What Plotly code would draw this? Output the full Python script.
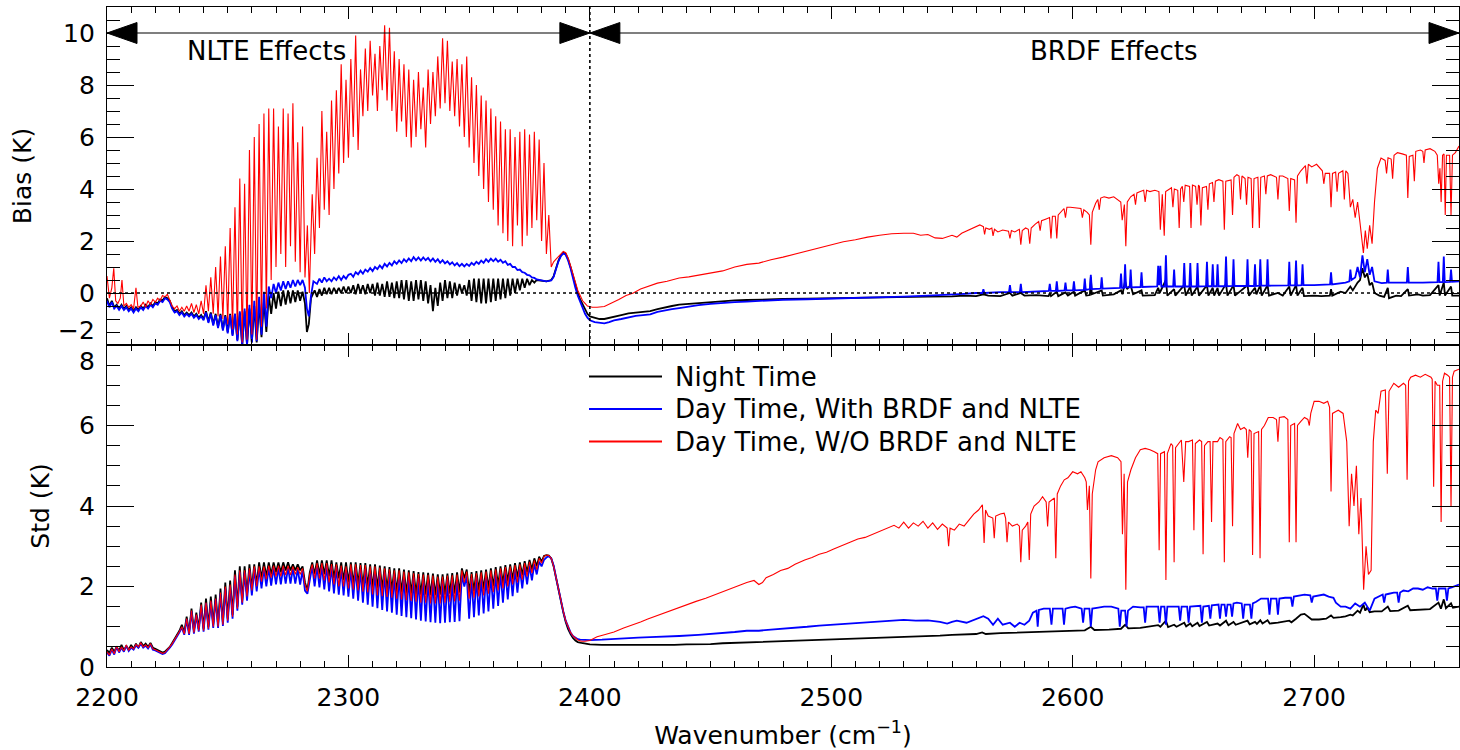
import plotly.graph_objects as go

# ---------------- data (wavenumber cm-1, value K) ----------------
BIAS_NIGHT = [
 (2200,-0.2),(2201,-0.5),(2202,-0.3),(2203,-0.55),(2204,-0.45),(2205,-0.6),(2206,-0.45),(2207,-0.6),(2208,-0.5),(2209,-0.65),
 (2210,-0.55),(2211,-0.7),(2212,-0.55),(2213,-0.65),(2214,-0.5),(2215,-0.6),(2216,-0.45),(2217,-0.55),(2218,-0.4),(2219,-0.5),
 (2220,-0.35),(2221,-0.4),(2222,-0.25),(2223,-0.3),(2224,-0.15),(2225,-0.2),(2226,-0.3),(2227,-0.55),(2228,-0.7),(2229,-0.65),
 (2230,-0.8),(2231,-0.7),(2232,-0.85),(2233,-0.75),(2234,-0.85),(2235,-0.75),(2236,-0.9),(2237,-0.8),(2238,-0.95),(2239,-0.85),
 (2240,-1.0),(2241,-0.7),(2242,-1.1),(2243,-0.75),(2244,-1.2),(2245,-0.8),(2246,-1.3),(2247,-0.8),(2248,-1.4),(2249,-0.85),
 (2250,-1.5),(2251,-0.8),(2252,-1.6),(2253,-0.8),(2254,-1.8),(2255,-0.75),(2256,-2.0),(2257,-0.7),(2258,-2.0),(2259,-0.6),
 (2260,-1.9),(2261,-0.5),(2262,-1.9),(2263,-0.4),(2264,-1.7),(2265,-0.3),(2266,-1.5),(2267,-0.1),(2268,-0.8),(2269,0.0),
 (2270,-0.6),(2271,0.05),(2272,-0.5),(2273,0.1),(2274,-0.45),(2275,0.1),(2276,-0.4),(2277,0.1),(2278,-0.35),(2279,0.1),
 (2280,-0.3),(2281,0.05),(2282,-0.4),(2282.8,-1.5),(2283.6,-1.2),(2284.5,-0.2),(2286,0.1),(2287,-0.15),(2288,0.15),(2289,-0.1),
 (2290,0.2),(2291,-0.05),(2292,0.2),(2293,-0.05),(2294,0.2),(2295,0.0),(2296,0.2),(2297,0.0),(2298,0.25),(2299,0.0),
 (2300,0.25),(2301,0.0),(2302,0.3),(2303,-0.05),(2304,0.35),(2305,0.0),(2306,0.3),(2307,-0.05),(2308,0.35),(2309,0.0),
 (2310,0.35),(2311,-0.1),(2312,0.4),(2313,-0.1),(2314,0.35),(2315,-0.15),(2316,0.45),(2317,-0.15),(2318,0.4),(2319,-0.2),
 (2320,0.45),(2321,-0.2),(2322,0.5),(2323,-0.25),(2324,0.5),(2325,-0.3),(2326,0.45),(2327,-0.3),(2328,0.5),(2329,-0.25),
 (2330,0.5),(2331,-0.3),(2332,0.45),(2333,-0.4),(2334,0.3),(2335,-0.7),(2336,0.2),(2337,-0.5),(2338,0.4),(2339,-0.3),
 (2340,0.5),(2341,-0.2),(2342,0.45),(2343,-0.2),(2344,0.4),(2345,-0.1),(2346,0.35),(2347,0.0),(2348,0.3),(2349,-0.1),
 (2350,0.5),(2351,-0.3),(2352,0.55),(2353,-0.35),(2354,0.55),(2355,-0.4),(2356,0.55),(2357,-0.4),(2358,0.55),(2359,-0.35),
 (2360,0.55),(2361,-0.3),(2362,0.55),(2363,-0.25),(2364,0.55),(2365,-0.2),(2366,0.55),(2367,-0.1),(2368,0.55),(2369,0.0),
 (2370,0.55),(2371,0.1),(2372,0.55),(2373,0.2),(2374,0.55),(2375,0.3),(2376,0.5),(2377,0.4),(2378,0.5),(2380,0.48),
 (2382,0.45),(2384,0.5),(2385,0.65),(2386,0.95),(2387,1.25),(2388,1.45),(2389,1.55),(2390,1.5),(2391,1.3),(2392,1.0),
 (2393,0.65),(2394,0.3),(2395,0.0),(2396,-0.25),(2397,-0.45),(2398,-0.65),(2399,-0.8),(2400,-0.9),(2402,-0.95),(2404,-1.0),
 (2406,-1.0),(2408,-0.95),(2410,-0.9),(2413,-0.85),(2416,-0.78),(2419,-0.75),(2422,-0.72),(2425,-0.7),(2428,-0.62),(2431,-0.55),
 (2434,-0.5),(2437,-0.45),(2441,-0.42),(2445,-0.38),(2450,-0.33),(2455,-0.3),(2460,-0.28),(2465,-0.27),(2470,-0.25),(2475,-0.24),
 (2480,-0.23),(2490,-0.22),(2500,-0.2),(2510,-0.19),(2520,-0.17),(2530,-0.15),(2540,-0.14),
 (2550,-0.13),(2555,-0.1),(2560,-0.12),(2563,-0.05),(2565,-0.1),(2570,-0.12),(2574,0.0),(2575,-0.1),(2578.5,0.0),(2580,-0.1),
 (2585,-0.08),(2590,-0.12),(2590.5,0.0),(2591,-0.12),(2593.4,0.05),(2594,-0.12),(2597,0.02),(2598,-0.1),(2600.5,0.05),(2601,-0.1),
 (2605,0.1),(2605.6,-0.1),(2607.1,-0.08),(2607.5,0.6),(2607.9,-0.05),(2612,0.1),(2612.5,-0.1),(2617,-0.05),(2620,0.1),(2620.6,-0.05),
 (2621.7,0.45),(2622.5,0.15),(2624,0.3),(2625,-0.05),(2628.5,0.1),(2629,-0.1),(2634,-0.08),(2635.4,0.2),(2636,0.0),(2638.6,0.5),
 (2639.2,-0.1),(2642,0.15),(2642.5,-0.1),(2646.2,0.3),(2646.8,-0.1),(2648.7,0.25),(2649.3,-0.1),(2651.7,0.25),(2652.3,-0.1),(2655.6,0.3),
 (2656.2,-0.1),(2658,0.2),(2658.6,-0.1),(2660,0.2),(2660.6,-0.1),(2663.5,0.35),(2664.1,-0.1),(2666.6,0.3),(2667.2,-0.1),(2672.4,0.3),
 (2673,-0.1),(2675.5,0.2),(2676.1,-0.05),(2677.7,0.3),(2678.3,-0.1),(2680.7,0.3),(2681.3,-0.1),(2685,0.0),(2687,-0.1),(2689.7,0.25),
 (2690.3,-0.1),(2692.5,0.3),(2693.1,-0.1),(2695.2,0.2),(2695.8,-0.12),(2700,-0.1),(2703,-0.12),(2706.5,-0.1),(2707,0.15),(2707.5,-0.1),
 (2711,0.05),(2713,0.0),(2715,0.25),(2716,0.1),(2718,0.4),(2719,0.5),(2720,0.95),(2721,0.6),(2722,0.75),(2723,0.3),
 (2724,0.4),(2725,0.0),(2727,-0.1),(2729,-0.15),(2730.5,0.2),(2731,-0.2),(2734,-0.1),(2736,-0.12),(2738.8,0.15),(2739.3,-0.1),
 (2743,-0.05),(2745,-0.1),(2748,-0.08),(2751.5,0.3),(2752,-0.1),(2753.7,0.4),(2754.2,-0.1),(2756.7,0.25),(2757.2,-0.1),(2760,-0.1),
]

BIAS_DAY_WITH = [
 (2200,-0.3),(2201,-0.55),(2202,-0.35),(2203,-0.6),(2204,-0.5),(2205,-0.65),(2206,-0.5),(2207,-0.65),(2208,-0.55),(2209,-0.7),
 (2210,-0.6),(2211,-0.75),(2212,-0.6),(2213,-0.7),(2214,-0.55),(2215,-0.65),(2216,-0.5),(2217,-0.6),(2218,-0.45),(2219,-0.55),
 (2220,-0.4),(2221,-0.45),(2222,-0.3),(2223,-0.35),(2224,-0.2),(2225,-0.25),(2226,-0.35),(2227,-0.6),(2228,-0.75),(2229,-0.7),
 (2230,-0.85),(2231,-0.75),(2232,-0.9),(2233,-0.8),(2234,-0.9),(2235,-0.8),(2236,-0.95),(2237,-0.85),(2238,-1.0),(2239,-0.9),
 (2240,-1.05),(2241,-0.75),(2242,-1.15),(2243,-0.8),(2244,-1.25),(2245,-0.85),(2246,-1.35),(2247,-0.85),(2248,-1.45),(2249,-0.9),
 (2250,-1.55),(2251,-0.85),(2252,-1.65),(2253,-0.8),(2254,-1.85),(2255,-0.7),(2256,-2.05),(2257,-0.6),(2258,-2.0),(2259,-0.45),
 (2260,-1.9),(2261,-0.3),(2262,-1.85),(2263,-0.15),(2264,-1.6),(2265,0.05),(2266,-1.3),(2267,0.25),(2268,-0.2),(2269,0.35),
 (2270,0.0),(2271,0.4),(2272,0.1),(2273,0.45),(2274,0.15),(2275,0.45),(2276,0.2),(2277,0.5),(2278,0.25),(2279,0.5),
 (2280,0.3),(2281,0.5),(2282,0.2),(2282.8,-0.6),(2283.6,-0.9),(2284.5,-0.1),(2285.5,0.45),(2287,0.35),(2288,0.55),(2289,0.4),
 (2290,0.6),(2291,0.45),(2292,0.55),(2293,0.45),(2294,0.6),(2295,0.5),(2296,0.65),(2297,0.5),(2298,0.65),(2299,0.55),
 (2300,0.7),(2301,0.74),(2302,0.62),(2303,0.8),(2304,0.72),(2305,0.86),(2306,0.74),(2307,0.9),(2308,0.82),(2309,0.96),
 (2310,0.84),(2311,1.0),(2312,0.92),(2313,1.06),(2314,0.95),(2315,1.12),(2316,1.02),(2317,1.16),(2318,1.06),(2319,1.22),
 (2320,1.12),(2321,1.25),(2322,1.15),(2323,1.3),(2324,1.2),(2325,1.33),(2326,1.22),(2327,1.38),(2328,1.26),(2329,1.37),
 (2330,1.25),(2331,1.37),(2332,1.26),(2333,1.35),(2334,1.22),(2335,1.33),(2336,1.2),(2337,1.3),(2338,1.16),(2339,1.26),
 (2340,1.14),(2341,1.22),(2342,1.1),(2343,1.18),(2344,1.06),(2345,1.15),(2346,1.03),(2347,1.12),(2348,1.02),(2349,1.12),
 (2350,1.04),(2351,1.16),(2352,1.08),(2353,1.2),(2354,1.12),(2355,1.25),(2356,1.16),(2357,1.3),(2358,1.2),(2359,1.32),
 (2360,1.22),(2361,1.32),(2362,1.2),(2363,1.28),(2364,1.16),(2365,1.22),(2366,1.08),(2367,1.12),(2368,1.0),(2369,1.0),
 (2370,0.88),(2371,0.9),(2372,0.8),(2373,0.78),(2374,0.7),(2375,0.68),(2376,0.6),(2377,0.58),(2378,0.52),(2380,0.48),
 (2382,0.45),(2384,0.48),(2385,0.62),(2386,0.92),(2387,1.22),(2388,1.42),(2389,1.52),(2390,1.47),(2391,1.25),
 (2392,0.95),(2393,0.55),(2394,0.2),(2395,-0.1),(2396,-0.35),(2397,-0.6),(2398,-0.8),(2399,-0.95),(2400,-1.05),(2402,-1.12),
 (2404,-1.15),(2406,-1.17),(2408,-1.12),(2410,-1.05),(2413,-1.0),(2416,-0.93),(2419,-0.88),(2422,-0.85),(2425,-0.82),(2428,-0.73),
 (2431,-0.67),(2434,-0.62),(2437,-0.58),(2441,-0.52),(2445,-0.47),(2450,-0.42),(2455,-0.38),(2460,-0.35),(2465,-0.33),(2470,-0.3),
 (2475,-0.28),(2480,-0.26),(2490,-0.24),(2500,-0.22),(2510,-0.2),(2520,-0.17),(2530,-0.14),(2540,-0.1),
 (2550,-0.07),(2555,-0.03),(2560,0.0),(2562.6,0.0),(2563,0.15),(2563.4,0.0),(2570,0.03),(2573.6,0.03),(2574,0.3),(2574.4,0.03),
 (2578.1,0.03),(2578.5,0.35),(2578.9,0.03),(2585,0.05),(2590.1,0.08),(2590.5,0.35),(2590.9,0.08),(2593,0.08),(2593.4,0.45),(2593.8,0.08),
 (2596.6,0.1),(2597,0.4),(2597.4,0.1),(2600.1,0.1),(2600.5,0.45),(2600.9,0.1),(2604.6,0.12),(2605,0.55),(2605.4,0.12),(2607.1,0.15),
 (2607.5,0.7),(2607.9,0.15),(2611.6,0.17),(2612,0.6),(2612.4,0.17),(2619.6,0.2),(2620,0.75),(2620.4,0.2),(2621.3,0.2),(2621.7,1.1),
 (2622.1,0.22),(2623.6,0.22),(2624,0.9),(2624.4,0.22),(2628.1,0.23),(2628.5,0.8),(2628.9,0.23),(2635,0.25),(2635.4,1.05),(2635.8,0.3),
 (2636.3,1.05),(2636.7,0.25),(2638.2,0.25),(2638.6,1.45),(2639,0.25),(2641.6,0.25),(2642,0.9),(2642.4,0.25),(2645.8,0.25),(2646.2,1.15),
 (2646.6,0.25),(2648.3,0.25),(2648.7,1.15),(2649.1,0.25),(2651.3,0.25),(2651.7,1.15),(2652.1,0.25),(2655.2,0.26),(2655.6,1.2),(2656,0.26),
 (2657.6,0.26),(2658,1.1),(2658.4,0.26),(2659.6,0.26),(2660,1.1),(2660.4,0.26),(2663.1,0.26),(2663.5,1.4),(2663.9,0.26),(2666.2,0.27),
 (2666.6,1.3),(2667,0.27),(2672,0.27),(2672.4,1.3),(2672.8,0.27),(2675.1,0.27),(2675.5,1.1),(2675.9,0.27),(2677.3,0.28),(2677.7,1.3),
 (2678.1,0.28),(2680.3,0.28),(2680.7,1.3),(2681.1,0.28),(2689.3,0.29),(2689.7,1.2),(2690.1,0.29),(2692.1,0.29),(2692.5,1.25),(2692.9,0.29),
 (2694.8,0.3),(2695.2,1.1),(2695.6,0.3),(2700,0.3),(2706.6,0.33),(2707,0.8),(2707.4,0.33),(2713,0.4),(2714.6,0.45),(2715,0.9),
 (2715.5,0.5),(2717,0.6),(2718,1.0),(2719,0.6),(2720,1.45),(2721,0.8),(2722,1.3),(2723,0.7),(2724,1.0),(2725,0.45),
 (2728,0.38),(2730.1,0.4),(2730.5,0.9),(2730.9,0.4),(2738.4,0.4),(2738.8,1.0),(2739.2,0.4),(2745,0.4),(2751.1,0.42),(2751.5,1.2),
 (2751.9,0.42),(2753.3,0.42),(2753.7,1.4),(2754.1,0.42),(2756.3,0.43),(2756.7,0.9),(2757.1,0.43),(2760,0.45),
]

BIAS_DAY_WITHOUT = [
 (2200,0.65),(2201,-0.2),(2202,0.2),(2202.8,0.95),(2203.6,-0.3),(2204.5,-0.4),(2205.5,-0.2),(2206.2,0.5),(2207,-0.5),(2208,-0.4),
 (2209,-0.55),(2210,-0.45),(2211,-0.6),(2212,0.2),(2212.8,-0.55),(2214,-0.5),(2215,-0.35),(2216,-0.55),(2217,-0.3),(2218,-0.45),
 (2219,-0.25),(2220,-0.35),(2221,-0.2),(2222,-0.3),(2223,-0.1),(2224,-0.15),(2225,-0.05),(2226,-0.25),(2227,-0.5),(2228,-0.6),
 (2229,-0.5),(2230,-0.7),(2231,-0.55),(2232,-0.7),(2233,-0.5),(2234,-0.7),(2235,-0.4),(2236,-0.75),(2237,-0.45),(2238,-0.8),
 (2239,-0.3),(2240,-0.8),(2241,0.3),(2242,-0.7),(2243,0.6),(2244,-0.8),(2245,1.0),(2246,-0.9),(2247,1.4),(2248,-1.0),
 (2249,1.8),(2250,-1.2),(2251,2.5),(2252,-1.4),(2253,3.3),(2254,-1.6),(2255,4.4),(2256,-1.9),(2257,4.2),(2258,-1.8),
 (2259,5.5),(2260,-1.6),(2261,6.0),(2262,-1.8),(2263,6.5),(2264,-1.3),(2265,6.9),(2266,-0.6),(2267,7.1),(2268,0.5),
 (2269,7.1),(2270,1.0),(2271,6.4),(2272,1.5),(2273,7.1),(2274,1.0),(2275,6.9),(2276,1.8),(2277,7.3),(2278,1.2),
 (2279,5.8),(2280,0.8),(2281,6.4),(2282,0.6),(2283,2.6),(2283.8,0.0),(2285,3.8),(2286,1.5),(2287,5.2),(2288,2.5),
 (2289,7.0),(2290,3.2),(2291,6.2),(2292,3.0),(2293,7.4),(2294,4.0),(2295,7.8),(2296,4.6),(2297,8.8),(2298,5.0),
 (2299,8.2),(2300,5.2),(2301,9.0),(2302,6.0),(2303,9.9),(2304,5.5),(2305,8.6),(2306,6.8),(2307,9.4),(2308,7.0),
 (2309,9.7),(2310,7.6),(2311,9.2),(2312,7.0),(2313,9.5),(2314,7.8),(2315,10.3),(2316,7.4),(2317,10.2),(2318,7.0),
 (2319,9.3),(2320,6.2),(2321,9.0),(2322,6.6),(2323,8.8),(2324,6.0),(2325,8.6),(2326,5.6),(2327,8.2),(2328,6.0),
 (2329,8.5),(2330,6.3),(2331,7.9),(2332,5.6),(2333,8.6),(2334,6.5),(2335,8.5),(2336,6.8),(2337,9.1),(2338,7.1),
 (2339,9.8),(2340,7.3),(2341,9.7),(2342,7.0),(2343,8.9),(2344,6.8),(2345,9.0),(2346,6.4),(2347,8.8),(2348,6.0),
 (2349,9.1),(2350,5.6),(2351,8.3),(2352,5.0),(2353,8.0),(2354,4.5),(2355,7.6),(2356,4.0),(2357,7.4),(2358,3.5),
 (2359,7.1),(2360,3.2),(2361,6.8),(2362,2.6),(2363,6.6),(2364,2.3),(2365,6.3),(2366,2.0),(2367,6.3),(2368,1.8),
 (2369,6.0),(2370,2.6),(2371,6.2),(2372,1.8),(2373,6.3),(2374,2.2),(2375,6.1),(2376,2.5),(2377,6.2),(2378,2.8),
 (2379,5.9),(2380,2.0),(2381,5.0),(2382,1.5),(2383,3.0),(2384,1.0),(2385,1.2),(2386,1.3),(2387,1.4),(2388,1.5),
 (2389,1.6),(2390,1.55),(2391,1.35),(2392,1.05),(2393,0.7),(2394,0.35),(2395,0.1),(2396,-0.1),(2397,-0.3),(2398,-0.4),
 (2399,-0.5),(2401,-0.55),(2403,-0.55),(2406,-0.52),(2409,-0.4),(2412,-0.25),(2415,-0.1),(2418,0.0),(2421,0.15),(2424,0.26),
 (2428,0.38),(2432,0.45),(2437,0.58),(2441,0.62),(2445,0.68),(2451,0.77),(2455,0.85),(2460,1.0),(2465,1.1),(2470,1.15),
 (2475,1.28),(2480,1.38),(2485,1.5),(2490,1.6),(2495,1.72),(2500,1.85),(2505,1.97),(2510,2.05),(2515,2.15),(2520,2.22),
 (2525,2.28),(2530,2.3),(2534,2.3),(2537,2.22),(2540,2.25),(2543,2.12),(2546,2.1),
 (2550,2.22),(2552,2.15),(2554,2.3),(2556,2.38),(2558,2.45),(2560,2.55),(2561.5,2.62),(2563,2.55),(2563.5,2.25),(2564,2.5),
 (2565.5,2.45),(2566.5,2.5),(2567,2.2),(2567.6,2.45),(2569,2.35),(2571,2.42),(2573.4,2.38),(2574,2.1),(2574.6,2.4),(2576,2.35),
 (2577.9,2.45),(2578.5,1.86),(2579.1,2.4),(2580.5,2.5),(2581.6,2.45),(2582.2,1.9),(2582.8,2.5),(2584.5,2.65),(2585.9,2.75),(2586.5,2.4),
 (2587.1,2.78),(2589,2.85),(2590.4,2.9),(2591,2.1),(2591.6,2.95),(2592.8,2.95),(2593.4,2.1),(2594,3.0),(2595.5,3.15),(2596.4,3.25),
 (2597,2.9),(2597.6,3.3),(2599,3.3),(2601,3.27),(2603.4,3.25),(2604,2.9),(2604.6,3.2),(2606,3.1),(2606.9,3.0),(2607.5,1.86),
 (2608.1,3.1),(2609.5,3.45),(2610.4,3.6),(2611,3.2),(2611.6,3.65),(2613,3.7),(2615,3.65),(2617,3.7),(2619,3.55),(2619.9,3.5),
 (2620.5,2.8),(2621.4,3.4),(2622,1.8),(2622.6,3.5),(2624,3.7),(2625.4,3.8),(2626,3.4),(2626.6,3.85),(2628,3.9),(2629.4,3.95),
 (2630,3.5),(2630.6,3.95),(2632,3.9),(2634,3.95),(2635.7,3.9),(2636.3,2.43),(2637.1,3.8),(2637.9,2.2),(2638.5,3.9),(2640,4.0),
 (2640.9,4.05),(2641.5,3.3),(2642.1,4.0),(2643.5,3.95),(2644.1,2.5),(2644.7,4.0),(2645.4,4.1),(2646,3.5),(2646.6,4.15),(2648.4,4.1),
 (2649,2.5),(2649.6,4.15),(2650.9,4.1),(2651.5,3.4),(2652.1,4.15),(2652.5,4.1),(2653.1,2.6),(2653.7,4.05),(2655.4,4.1),(2656,3.2),
 (2656.6,4.2),(2657.9,4.25),(2658.5,3.5),(2659.1,4.3),(2660.5,4.36),(2662.2,4.3),(2662.8,2.43),(2663.4,4.3),(2665.6,4.35),(2666.2,3.0),
 (2666.8,4.45),(2668,4.55),(2668.9,4.5),(2669.5,3.6),(2670.1,4.5),(2671.4,4.4),(2672,3.4),(2672.6,4.45),(2673.9,4.4),(2674.5,2.5),
 (2675.1,4.4),(2676.7,4.45),(2677.3,2.5),(2677.9,4.45),(2679.4,4.5),(2680,3.8),(2680.6,4.5),(2682,4.55),(2684.4,4.45),(2685,3.6),
 (2685.6,4.5),(2687,4.5),(2689.1,4.4),(2689.7,3.15),(2690.3,4.4),(2691.9,4.35),(2692.5,2.7),(2693.1,4.5),(2694.5,4.7),(2696.4,4.9),
 (2697,4.2),(2697.6,4.95),(2699,4.85),(2701,4.95),(2703.4,4.7),(2704,4.2),(2704.6,4.6),(2706.4,4.6),(2707,3.3),(2707.6,4.6),
 (2708.9,4.65),(2709.5,3.9),(2710.1,4.6),(2711.9,4.7),(2712.5,3.6),(2713.1,4.7),(2714,4.6),(2715,3.3),(2716,3.6),(2717,2.9),
 (2718,3.5),(2719,2.7),(2720.4,1.54),(2721.2,2.4),(2722,1.7),(2723,2.6),(2724,1.9),(2725,3.5),(2726.2,4.8),(2727.7,5.19),
 (2729.4,5.1),(2730,4.6),(2730.6,5.2),(2731.9,5.15),(2732.5,4.4),(2733.1,5.3),(2734.5,5.4),(2736.5,5.35),(2738.2,5.3),(2738.8,3.65),
 (2739.4,5.25),(2740.9,5.3),(2741.5,4.3),(2742.1,5.45),(2744,5.5),(2745,5.45),(2745.5,5.0),(2746,5.5),(2748,5.55),(2750,5.45),
 (2751,5.3),(2751.6,4.2),(2752.1,4.8),(2752.6,3.5),(2753.2,5.3),(2753.8,5.35),(2754.3,3.0),(2754.8,5.3),(2756.1,5.3),(2756.7,3.0),
 (2757.3,5.3),(2758.5,5.4),(2760,5.65),
]

STD_NIGHT = [
 (2200,0.42),(2201,0.35),(2202,0.48),(2203,0.38),(2204,0.5),(2205,0.4),(2206,0.55),(2207,0.42),(2208,0.52),(2209,0.43),
 (2210,0.55),(2211,0.45),(2212,0.58),(2213,0.48),(2214,0.62),(2215,0.52),(2216,0.58),(2217,0.5),(2218,0.6),(2219,0.48),
 (2220,0.45),(2221,0.42),(2222,0.38),(2223,0.36),(2224,0.38),(2225,0.43),(2226,0.5),(2227,0.6),(2228,0.7),(2229,0.78),
 (2230,0.9),(2231,1.05),(2232,0.85),(2233,1.25),(2234,0.85),(2235,1.45),(2236,0.9),(2237,1.35),(2238,0.95),(2239,1.6),
 (2240,0.95),(2241,1.7),(2242,1.0),(2243,1.75),(2244,1.05),(2245,1.8),(2246,1.05),(2247,1.95),(2248,1.1),(2249,2.1),
 (2250,1.2),(2251,2.15),(2252,1.3),(2253,2.4),(2254,1.5),(2255,2.5),(2256,1.65),(2257,2.5),(2258,1.8),(2259,2.55),
 (2260,1.95),(2261,2.55),(2262,2.05),(2263,2.6),(2264,2.2),(2265,2.6),(2266,2.25),(2267,2.6),(2268,2.3),(2269,2.6),
 (2270,2.35),(2271,2.6),(2272,2.35),(2273,2.6),(2274,2.4),(2275,2.6),(2276,2.4),(2277,2.55),(2278,2.4),(2279,2.55),
 (2280,2.4),(2281,2.5),(2282,2.1),(2283,1.9),(2284,2.35),(2285,2.6),(2286,2.3),(2287,2.65),(2288,2.3),(2289,2.65),
 (2290,2.3),(2291,2.65),(2292,2.25),(2293,2.65),(2294,2.2),(2295,2.6),(2296,2.2),(2297,2.6),(2298,2.15),(2299,2.6),
 (2300,2.1),(2301,2.6),(2302,2.05),(2303,2.6),(2304,2.05),(2305,2.58),(2306,2.0),(2307,2.58),(2308,2.0),(2309,2.55),
 (2310,1.95),(2311,2.55),(2312,1.95),(2313,2.52),(2314,1.92),(2315,2.5),(2316,1.9),(2317,2.48),(2318,1.88),(2319,2.45),
 (2320,1.85),(2321,2.45),(2322,1.85),(2323,2.42),(2324,1.82),(2325,2.4),(2326,1.82),(2327,2.38),(2328,1.8),(2329,2.36),
 (2330,1.8),(2331,2.35),(2332,1.8),(2333,2.34),(2334,1.78),(2335,2.32),(2336,1.78),(2337,2.3),(2338,1.8),(2339,2.3),
 (2340,1.8),(2341,2.32),(2342,1.82),(2343,2.33),(2344,1.82),(2345,2.35),(2346,1.85),(2347,2.45),(2348,2.2),(2349,2.42),
 (2350,1.85),(2351,2.36),(2352,1.88),(2353,2.38),(2354,1.9),(2355,2.4),(2356,1.92),(2357,2.42),(2358,1.95),(2359,2.45),
 (2360,2.0),(2361,2.48),(2362,2.03),(2363,2.5),(2364,2.07),(2365,2.53),(2366,2.12),(2367,2.55),(2368,2.17),(2369,2.58),
 (2370,2.22),(2371,2.6),(2372,2.28),(2373,2.63),(2374,2.35),(2375,2.66),(2376,2.42),(2377,2.7),(2378,2.5),(2379,2.74),
 (2380,2.62),(2381,2.76),(2382,2.78),(2383,2.77),(2384,2.7),(2385,2.5),(2386,2.2),(2387,1.9),(2388,1.6),(2389,1.36),
 (2390,1.12),(2391,0.94),(2392,0.82),(2393,0.72),(2394,0.66),(2395,0.62),(2396.5,0.6),(2398,0.58),(2400,0.56),(2405,0.55),
 (2410,0.55),(2415,0.54),(2420,0.54),(2425,0.54),(2430,0.55),(2435,0.55),(2440,0.56),(2445,0.56),(2450,0.57),(2455,0.59),
 (2460,0.6),(2465,0.61),(2470,0.62),(2475,0.63),(2480,0.64),(2485,0.65),(2490,0.66),(2495,0.67),(2500,0.68),(2505,0.7),
 (2510,0.71),(2515,0.72),(2520,0.73),(2525,0.74),(2530,0.75),(2535,0.76),(2540,0.77),(2545,0.78),(2550,0.8),(2555,0.81),
 (2560,0.82),(2562.5,0.86),(2564,0.82),(2570,0.84),(2575,0.85),(2580,0.86),(2585,0.87),(2590,0.88),(2595,0.89),(2600,0.9),
 (2605,0.91),(2607.5,1.0),(2609,0.92),(2615,0.93),(2620,0.95),(2621.7,1.05),(2623,0.96),(2628,0.97),(2635.4,1.04),(2636.3,1.0),
 (2638.6,1.15),(2639.5,0.99),(2642,1.05),(2643,1.0),(2646.2,1.1),(2647,1.01),(2648.7,1.08),(2649.5,1.01),(2651.7,1.1),(2652.5,1.02),
 (2655.6,1.12),(2656.5,1.03),(2660,1.08),(2661,1.03),(2663.5,1.15),(2664.5,1.04),(2666.6,1.12),(2667.5,1.05),(2672.4,1.15),(2673.3,1.06),
 (2675.5,1.12),(2676.3,1.07),(2677.7,1.16),(2678.6,1.08),(2680.7,1.16),(2681.6,1.08),(2685,1.1),(2689.7,1.15),(2690.6,1.11),(2692.5,1.2),
 (2693.5,1.25),(2694.5,1.3),(2696,1.32),(2697.5,1.25),(2699,1.18),(2702,1.18),(2705,1.2),(2707,1.28),(2708,1.22),(2711,1.24),
 (2713,1.26),(2715,1.3),(2716,1.28),(2718,1.4),(2719,1.35),(2720.4,1.55),(2721.2,1.4),(2722,1.48),(2723,1.36),(2725,1.38),
 (2728,1.38),(2730.5,1.5),(2731.5,1.39),(2735,1.4),(2738.8,1.52),(2739.8,1.41),(2745,1.43),(2748,1.44),(2751.5,1.6),(2752.5,1.45),
 (2753.7,1.68),(2754.6,1.46),(2756.7,1.58),(2757.5,1.47),(2760,1.5),
]

STD_DAY_WITH = [
 (2200,0.36),(2201,0.28),(2202,0.43),(2203,0.31),(2204,0.5),(2205,0.36),(2206,0.48),(2207,0.38),(2208,0.53),(2209,0.4),
 (2210,0.48),(2211,0.43),(2212,0.54),(2213,0.48),(2214,0.58),(2215,0.48),(2216,0.53),(2217,0.46),(2218,0.56),(2219,0.43),
 (2220,0.41),(2221,0.38),(2222,0.34),(2223,0.32),(2224,0.34),(2225,0.4),(2226,0.48),(2227,0.56),(2228,0.66),(2229,0.74),
 (2230,0.86),(2231,0.98),(2232,0.8),(2233,1.18),(2234,0.8),(2235,1.38),(2236,0.83),(2237,1.28),(2238,0.88),(2239,1.52),
 (2240,0.88),(2241,1.58),(2242,0.93),(2243,1.62),(2244,0.97),(2245,1.68),(2246,0.97),(2247,1.82),(2248,1.02),(2249,1.95),
 (2250,1.1),(2251,2.0),(2252,1.2),(2253,2.25),(2254,1.4),(2255,2.35),(2256,1.55),(2257,2.35),(2258,1.65),(2259,2.4),
 (2260,1.78),(2261,2.45),(2262,1.88),(2263,2.45),(2264,1.95),(2265,2.45),(2266,2.0),(2267,2.47),(2268,2.02),(2269,2.47),
 (2270,2.05),(2271,2.47),(2272,2.05),(2273,2.47),(2274,2.07),(2275,2.47),(2276,2.07),(2277,2.45),(2278,2.07),(2279,2.43),
 (2280,2.05),(2281,2.4),(2282,1.9),(2283,1.82),(2284,2.2),(2285,2.5),(2286,2.0),(2287,2.52),(2288,1.98),(2289,2.52),
 (2290,1.93),(2291,2.52),(2292,1.88),(2293,2.5),(2294,1.83),(2295,2.48),(2296,1.8),(2297,2.46),(2298,1.78),(2299,2.44),
 (2300,1.75),(2301,2.45),(2302,1.7),(2303,2.45),(2304,1.65),(2305,2.43),(2306,1.6),(2307,2.43),(2308,1.55),(2309,2.4),
 (2310,1.5),(2311,2.4),(2312,1.46),(2313,2.37),(2314,1.42),(2315,2.35),(2316,1.38),(2317,2.33),(2318,1.35),(2319,2.3),
 (2320,1.3),(2321,2.3),(2322,1.27),(2323,2.27),(2324,1.24),(2325,2.25),(2326,1.21),(2327,2.23),(2328,1.18),(2329,2.21),
 (2330,1.15),(2331,2.2),(2332,1.13),(2333,2.19),(2334,1.11),(2335,2.17),(2336,1.1),(2337,2.15),(2338,1.09),(2339,2.15),
 (2340,1.1),(2341,2.17),(2342,1.11),(2343,2.18),(2344,1.12),(2345,2.2),(2346,1.14),(2347,2.3),(2348,2.0),(2349,2.27),
 (2350,1.2),(2351,2.21),(2352,1.24),(2353,2.23),(2354,1.28),(2355,2.25),(2356,1.33),(2357,2.27),(2358,1.38),(2359,2.3),
 (2360,1.45),(2361,2.33),(2362,1.52),(2363,2.35),(2364,1.6),(2365,2.38),(2366,1.68),(2367,2.4),(2368,1.76),(2369,2.43),
 (2370,1.85),(2371,2.45),(2372,1.95),(2373,2.48),(2374,2.05),(2375,2.52),(2376,2.15),(2377,2.56),(2378,2.3),(2379,2.62),
 (2380,2.5),(2381,2.66),(2382,2.72),(2383,2.75),(2384,2.7),(2385,2.52),(2386,2.22),(2387,1.92),(2388,1.62),(2389,1.38),
 (2390,1.15),(2391,0.98),(2392,0.86),(2393,0.77),(2394,0.72),(2395,0.69),(2396,0.68),(2398,0.67),(2400,0.67),(2405,0.68),
 (2410,0.7),(2415,0.71),(2420,0.73),(2425,0.74),(2430,0.75),(2437,0.77),(2445,0.8),(2450,0.82),(2455,0.85),(2460,0.87),
 (2465,0.9),(2470,0.9),(2475,0.93),(2480,0.95),(2485,0.98),(2490,1.0),(2495,1.03),(2500,1.05),(2505,1.08),(2510,1.1),
 (2515,1.12),(2520,1.14),(2526,1.16),(2530,1.17),(2535,1.15),(2540,1.16),(2545,1.12),(2548,1.08),(2550,1.12),(2552,1.15),
 (2556,1.1),(2560,1.2),(2563,1.26),(2565,1.2),(2567,1.05),(2569,1.2),(2571,1.05),(2574,1.1),(2576,1.0),(2578,1.1),
 (2580,1.05),(2582,1.15),(2583.5,1.35),(2585,1.4),(2585.5,1.0),(2586,1.42),(2588,1.45),(2590.5,1.45),(2591.2,1.05),(2591.8,1.45),
 (2594,1.45),(2595.8,1.45),(2596.4,1.05),(2597,1.45),(2599,1.48),(2601,1.5),(2603.7,1.45),(2604.3,1.1),(2604.9,1.45),(2606.9,1.45),
 (2607.5,1.0),(2608.1,1.45),(2610,1.47),(2613,1.5),(2616,1.5),(2618.9,1.45),(2619.5,1.0),(2620.1,1.4),(2621.7,1.4),(2622.3,1.0),
 (2622.9,1.4),(2625,1.5),(2628,1.48),(2629.4,1.48),(2630,1.1),(2630.6,1.5),(2633,1.5),(2635.4,1.5),(2636,1.1),(2636.6,1.5),
 (2638,1.5),(2638.6,1.05),(2639.2,1.5),(2641,1.5),(2643.9,1.5),(2644.5,1.15),(2645.1,1.5),(2647.4,1.5),(2648,1.1),(2648.6,1.5),
 (2651,1.52),(2652.9,1.52),(2653.5,1.1),(2654.1,1.5),(2656.4,1.52),(2657,1.2),(2657.6,1.53),(2659.5,1.55),(2660.4,1.55),(2661,1.2),
 (2661.6,1.55),(2662.9,1.55),(2663.5,1.25),(2664.1,1.55),(2665.4,1.55),(2666,1.25),(2666.6,1.58),(2668,1.6),(2670,1.58),(2670.6,1.2),
 (2671.2,1.55),(2673.4,1.55),(2674,1.2),(2674.6,1.58),(2676,1.62),(2678,1.7),(2680.9,1.7),(2681.5,1.3),(2682.1,1.7),(2684.4,1.7),
 (2685,1.3),(2685.6,1.7),(2688,1.72),(2690.4,1.72),(2691,1.5),(2691.6,1.75),(2694,1.78),(2696,1.8),(2698.4,1.78),(2699,1.6),
 (2699.6,1.75),(2702,1.78),(2704,1.8),(2706,1.75),(2708,1.72),(2709,1.6),(2711,1.5),(2713,1.5),(2715,1.45),(2717,1.58),
 (2719,1.5),(2721,1.6),(2723,1.4),(2725,1.7),(2727,1.75),(2728.4,1.8),(2729,1.6),(2729.6,1.8),(2731,1.82),(2733,1.85),
 (2734.4,1.85),(2735,1.6),(2735.6,1.85),(2737,1.9),(2739,1.88),(2741,1.95),(2743,1.95),(2745,1.92),(2747,1.98),(2749,1.95),
 (2750.4,1.95),(2751,1.65),(2751.6,1.95),(2753,1.95),(2754.4,1.95),(2755,1.65),(2755.6,1.95),(2757,1.98),(2760,2.05),
]

STD_DAY_WITHOUT = [
 (2200,0.38),(2201,0.3),(2202,0.45),(2203,0.33),(2204,0.52),(2205,0.38),(2206,0.5),(2207,0.4),(2208,0.55),(2209,0.42),
 (2210,0.5),(2211,0.45),(2212,0.56),(2213,0.5),(2214,0.6),(2215,0.5),(2216,0.55),(2217,0.48),(2218,0.58),(2219,0.45),
 (2220,0.43),(2221,0.4),(2222,0.36),(2223,0.34),(2224,0.36),(2225,0.42),(2226,0.5),(2227,0.58),(2228,0.68),(2229,0.76),
 (2230,0.88),(2231,1.0),(2232,0.82),(2233,1.2),(2234,0.82),(2235,1.4),(2236,0.85),(2237,1.3),(2238,0.9),(2239,1.55),
 (2240,0.9),(2241,1.6),(2242,0.95),(2243,1.65),(2244,1.0),(2245,1.7),(2246,1.0),(2247,1.85),(2248,1.05),(2249,2.0),
 (2250,1.15),(2251,2.05),(2252,1.25),(2253,2.3),(2254,1.45),(2255,2.4),(2256,1.6),(2257,2.4),(2258,1.75),(2259,2.45),
 (2260,1.9),(2261,2.5),(2262,2.0),(2263,2.5),(2264,2.12),(2265,2.5),(2266,2.18),(2267,2.52),(2268,2.22),(2269,2.52),
 (2270,2.25),(2271,2.52),(2272,2.25),(2273,2.52),(2274,2.28),(2275,2.52),(2276,2.28),(2277,2.5),(2278,2.3),(2279,2.48),
 (2280,2.3),(2281,2.45),(2282,2.05),(2283,1.88),(2284,2.3),(2285,2.55),(2286,2.2),(2287,2.58),(2288,2.2),(2289,2.58),
 (2290,2.15),(2291,2.58),(2292,2.1),(2293,2.56),(2294,2.05),(2295,2.55),(2296,2.0),(2297,2.52),(2298,2.0),(2299,2.5),
 (2300,1.95),(2301,2.55),(2302,1.92),(2303,2.55),(2304,1.9),(2305,2.53),(2306,1.87),(2307,2.53),(2308,1.85),(2309,2.5),
 (2310,1.8),(2311,2.5),(2312,1.78),(2313,2.47),(2314,1.76),(2315,2.45),(2316,1.74),(2317,2.43),(2318,1.72),(2319,2.4),
 (2320,1.7),(2321,2.4),(2322,1.68),(2323,2.37),(2324,1.66),(2325,2.35),(2326,1.64),(2327,2.33),(2328,1.62),(2329,2.31),
 (2330,1.6),(2331,2.3),(2332,1.6),(2333,2.29),(2334,1.58),(2335,2.27),(2336,1.58),(2337,2.25),(2338,1.58),(2339,2.25),
 (2340,1.6),(2341,2.27),(2342,1.62),(2343,2.28),(2344,1.63),(2345,2.3),(2346,1.65),(2347,2.4),(2348,2.1),(2349,2.37),
 (2350,1.7),(2351,2.31),(2352,1.72),(2353,2.33),(2354,1.75),(2355,2.35),(2356,1.78),(2357,2.37),(2358,1.82),(2359,2.4),
 (2360,1.86),(2361,2.43),(2362,1.9),(2363,2.45),(2364,1.95),(2365,2.48),(2366,2.0),(2367,2.5),(2368,2.05),(2369,2.53),
 (2370,2.1),(2371,2.55),(2372,2.17),(2373,2.58),(2374,2.25),(2375,2.61),(2376,2.33),(2377,2.65),(2378,2.42),(2379,2.7),
 (2380,2.58),(2381,2.75),(2382,2.78),(2383,2.77),(2384,2.7),(2385,2.5),(2386,2.2),(2387,1.9),(2388,1.6),(2389,1.38),
 (2390,1.15),(2391,0.98),(2392,0.86),(2393,0.77),(2394,0.71),(2395,0.67),(2396.5,0.64),(2398,0.64),(2400,0.66),(2403,0.75),
 (2406,0.8),(2410,0.87),(2414,0.97),(2418,1.05),(2421,1.12),(2424,1.19),(2428,1.28),(2431,1.35),(2434,1.42),(2437,1.49),
 (2441,1.57),(2444,1.63),(2448,1.71),(2451,1.78),(2455,1.87),(2458,1.95),(2462,2.03),(2465,2.1),(2468,2.15),(2470,2.05),
 (2471.5,2.1),(2473,2.22),(2476,2.3),(2479,2.4),(2482,2.45),(2485,2.55),(2489,2.66),(2492,2.72),(2495,2.8),(2498,2.85),
 (2501,2.93),(2504,3.0),(2508,3.1),(2511,3.18),(2514,3.22),(2517,3.3),(2520,3.38),(2523,3.45),(2526,3.52),(2528,3.45),
 (2530,3.6),(2532,3.45),(2534,3.58),(2536,3.5),(2538,3.62),(2540,3.45),(2542,3.58),(2544,3.42),
 (2546,3.55),(2548,3.45),(2548.6,3.0),(2549.2,3.45),(2551,3.4),(2553,3.55),(2555,3.5),(2557,3.65),(2559,3.8),(2561,3.9),
 (2562.6,4.03),(2563.3,3.08),(2563.9,3.9),(2565,3.75),(2566.9,3.7),(2567.5,3.2),(2568.1,3.75),(2570,3.8),(2571.6,3.82),(2572.2,3.7),
 (2572.8,3.1),(2573.4,3.6),(2575,3.5),(2577,3.55),(2577.9,3.5),(2578.5,2.6),(2579.1,3.4),(2580.5,3.5),(2581.4,3.6),(2582,2.66),
 (2582.6,3.8),(2584,4.0),(2586,4.1),(2587.5,4.23),(2589,4.1),(2589.6,3.49),(2590.2,4.1),(2592.4,4.2),(2593,2.7),(2593.6,4.3),
 (2595,4.5),(2596.5,4.65),(2598,4.7),(2600,4.85),(2602,4.8),(2603.4,4.85),(2605,4.7),(2605.6,4.6),(2606.1,3.9),(2606.9,4.5),
 (2607.5,2.2),(2608.1,4.3),(2609.5,4.9),(2610.5,5.1),(2613,5.2),(2616,5.25),(2618.6,5.2),(2620,5.1),(2620.6,3.3),(2621.3,4.8),
 (2622,1.92),(2622.7,4.6),(2624.1,4.9),(2626,5.2),(2628,5.4),(2630,5.43),(2632,5.4),(2633.8,5.35),(2635.2,5.3),(2635.8,2.9),
 (2636.4,5.3),(2638,5.35),(2638.6,2.16),(2639.2,5.3),(2640.7,5.55),(2641.4,5.5),(2642,2.6),(2642.6,5.45),(2644,5.55),(2645,5.64),
 (2646,4.6),(2646.8,5.6),(2648,5.6),(2649.6,5.64),(2650.2,3.4),(2650.8,5.55),(2652.5,5.64),(2653.4,5.6),(2654,2.8),(2654.6,5.5),
 (2656,5.6),(2656.9,5.6),(2657.5,3.6),(2658.1,5.6),(2660,5.6),(2661,5.7),(2662.2,5.65),(2662.8,2.6),(2663.4,5.6),(2665,5.72),
 (2665.6,5.7),(2666.2,3.5),(2666.8,5.8),(2668.3,6.05),(2669.5,5.9),(2671,5.95),(2671.9,5.9),(2672.5,5.2),(2673.1,5.9),(2673.9,5.85),
 (2674.5,2.78),(2675.1,5.8),(2677,5.85),(2677.6,2.7),(2678.2,5.9),(2679.4,6.0),(2681,6.2),(2683,6.2),(2684.4,6.15),(2685,5.6),
 (2685.6,6.2),(2687.6,6.22),(2689.1,6.15),(2689.7,3.1),(2690.3,6.0),(2691.9,6.05),(2692.5,3.1),(2693.1,6.0),(2694.5,6.1),(2696,6.2),
 (2697.4,6.15),(2698,6.0),(2698.6,6.3),(2700,6.6),(2702,6.6),(2704,6.55),(2705.6,6.6),(2706.4,6.45),(2707,4.36),(2707.6,6.3),
 (2709,6.35),(2710,6.38),(2712,6.3),(2713.5,5.6),(2714.5,3.5),(2715.5,4.8),(2716.5,4.0),(2717.5,5.0),(2718.5,3.3),(2719.4,4.2),
 (2720.5,1.92),(2721.5,3.0),(2722.5,2.3),(2723.6,2.4),(2724.5,5.6),(2725.5,6.38),(2726.5,6.3),(2727.7,6.85),(2729.5,6.88),(2730.3,4.8),
 (2731,6.85),(2733,7.05),(2735,6.95),(2737,7.05),(2737.9,7.0),(2738.5,4.65),(2739.1,7.1),(2740,7.2),(2742,7.25),(2744,7.2),
 (2746,7.27),(2748.4,7.2),(2748.9,7.15),(2749.5,4.48),(2750.1,7.1),(2751,7.0),(2752,7.0),(2752.6,3.6),(2753.2,7.1),(2754,7.3),
 (2755.3,7.25),(2756.1,7.2),(2756.7,4.0),(2757.3,7.2),(2758,7.35),(2760,7.4),
]

SERIES_NAMES = ["Night Time", "Day Time, With BRDF and NLTE", "Day Time, W/O BRDF and NLTE"]
SERIES_COLORS = ["#000000", "#0000ff", "#ff0000"]
SERIES_WIDTHS = [1.8, 1.8, 1.1]
BIAS_SERIES = [BIAS_NIGHT, BIAS_DAY_WITH, BIAS_DAY_WITHOUT]
STD_SERIES = [STD_NIGHT, STD_DAY_WITH, STD_DAY_WITHOUT]

X_RANGE = [2200, 2760]
BIAS_RANGE = [-2, 11]
STD_RANGE = [0, 8]
BIAS_TICKS = [0, 2, 4, 6, 8, 10]
STD_TICKS = [0, 2, 4, 6]
REGION_SPLIT = 2400
ARROW_LEVEL = 10
REGION_LABELS = [("NLTE Effects", 2266, 9.3), ("BRDF Effects", 2617, 9.3)]

FONT = "DejaVu Sans"

# ---------------- figure ----------------
fig = go.Figure()
for pts, name, col, w in zip(BIAS_SERIES, SERIES_NAMES, SERIES_COLORS, SERIES_WIDTHS):
    fig.add_trace(go.Scatter(x=[p[0] for p in pts], y=[p[1] for p in pts], mode="lines",
                             name=name, line=dict(color=col, width=w), xaxis="x", yaxis="y",
                             showlegend=False))
for pts, name, col, w in zip(STD_SERIES, SERIES_NAMES, SERIES_COLORS, SERIES_WIDTHS):
    fig.add_trace(go.Scatter(x=[p[0] for p in pts], y=[p[1] for p in pts], mode="lines",
                             name=name, line=dict(color=col, width=w), xaxis="x2", yaxis="y2",
                             showlegend=False))

PW, PH, ML, MB = 1352, 660, 107, 83   # plot-area size and margins in px
split = (667 - 345) / PH
axis_common = dict(showline=True, linecolor="black", linewidth=1.3, mirror="allticks",
                   ticks="inside", tickcolor="black", tickwidth=1.3, showgrid=False,
                   zeroline=False, automargin=False,
                   tickfont=dict(family=FONT, size=25, color="black"))
minor_y = dict(dtick=0.5, tick0=0, ticklen=13, ticks="inside", tickcolor="black", tickwidth=1.2)
xcommon = dict(axis_common, range=X_RANGE, dtick=100, tick0=2200, ticklen=12,
               minor=dict(dtick=10, ticklen=6, ticks="inside", tickcolor="black", tickwidth=1.2))

fig.update_layout(
    width=1460, height=750,
    margin=dict(l=ML, r=1, t=7, b=MB),
    plot_bgcolor="white", paper_bgcolor="white",
    font=dict(family=FONT, size=25, color="black"),
    xaxis=dict(xcommon, domain=[0, 1], anchor="y", showticklabels=False, matches="x2"),
    xaxis2=dict(xcommon, domain=[0, 1], anchor="y2", ticklabelstandoff=8,
                title=dict(text="Wavenumber (cm<sup>−1</sup>)", font=dict(family=FONT, size=25),
                           standoff=16)),
    yaxis=dict(axis_common, domain=[split, 1], anchor="x", range=BIAS_RANGE,
               tickmode="array", tickvals=BIAS_TICKS, ticklen=27, ticklabelstandoff=6,
               minor=minor_y,
               title=dict(text="Bias (K)", font=dict(family=FONT, size=25), standoff=24)),
    yaxis2=dict(axis_common, domain=[0, split], anchor="x2", range=STD_RANGE,
                tickmode="array", tickvals=STD_TICKS, ticklen=27, ticklabelstandoff=6,
                minor=minor_y,
                title=dict(text="Std (K)", font=dict(family=FONT, size=25), standoff=22)),
    showlegend=False,
)

# edge tick labels, kept apart so they do not collide
fig.add_annotation(x=(97 - ML) / PW, y=(667 - 330) / PH, xref="paper", yref="paper",
                   text="−2", showarrow=False, xanchor="right", yanchor="middle",
                   font=dict(family=FONT, size=25, color="black"))
fig.add_annotation(x=(97 - ML) / PW, y=(667 - 361) / PH, xref="paper", yref="paper",
                   text="8", showarrow=False, xanchor="right", yanchor="middle",
                   font=dict(family=FONT, size=25, color="black"))

# reference lines in top panel
fig.add_shape(type="line", xref="x", yref="y", x0=X_RANGE[0], x1=X_RANGE[1], y0=0, y1=0,
              line=dict(color="black", width=1.6, dash="dot"))
fig.add_shape(type="line", xref="x", yref="y", x0=REGION_SPLIT, x1=REGION_SPLIT,
              y0=BIAS_RANGE[0], y1=BIAS_RANGE[1], line=dict(color="black", width=1.6, dash="dot"))

# region arrows
fig.add_shape(type="line", xref="x", yref="y", x0=X_RANGE[0], x1=X_RANGE[1],
              y0=ARROW_LEVEL, y1=ARROW_LEVEL, line=dict(color="black", width=1.2))
left_head = "M0,0 L30,10.5 L30,-10.5 Z"
right_head = "M0,0 L-30,10.5 L-30,-10.5 Z"
for xa, path in [(X_RANGE[0], left_head), (REGION_SPLIT, right_head),
                 (REGION_SPLIT, left_head), (X_RANGE[1], right_head)]:
    fig.add_shape(type="path", xref="x", yref="y", xsizemode="pixel", ysizemode="pixel",
                  xanchor=xa, yanchor=ARROW_LEVEL, path=path,
                  fillcolor="black", line=dict(color="black", width=1))
for txt, xx, yy in REGION_LABELS:
    fig.add_annotation(x=xx, y=yy, xref="x", yref="y", text=txt, showarrow=False,
                       font=dict(family=FONT, size=26, color="black"))

# legend drawn inside the lower panel
leg_x0, leg_x1, leg_xt = (589 - ML) / PW, (662 - ML) / PW, (673 - ML) / PW
leg_ys = [(667 - 376.5) / PH, (667 - 409) / PH, (667 - 441.5) / PH]
for name, col, yy in zip(SERIES_NAMES, SERIES_COLORS, leg_ys):
    fig.add_shape(type="line", xref="paper", yref="paper", x0=leg_x0, x1=leg_x1, y0=yy, y1=yy,
                  line=dict(color=col, width=1.8))
    fig.add_annotation(x=leg_xt, y=yy, xref="paper", yref="paper", text=name, showarrow=False,
                       xanchor="left", yanchor="middle",
                       font=dict(family=FONT, size=26, color="black"))

fig.write_html("out.html")
